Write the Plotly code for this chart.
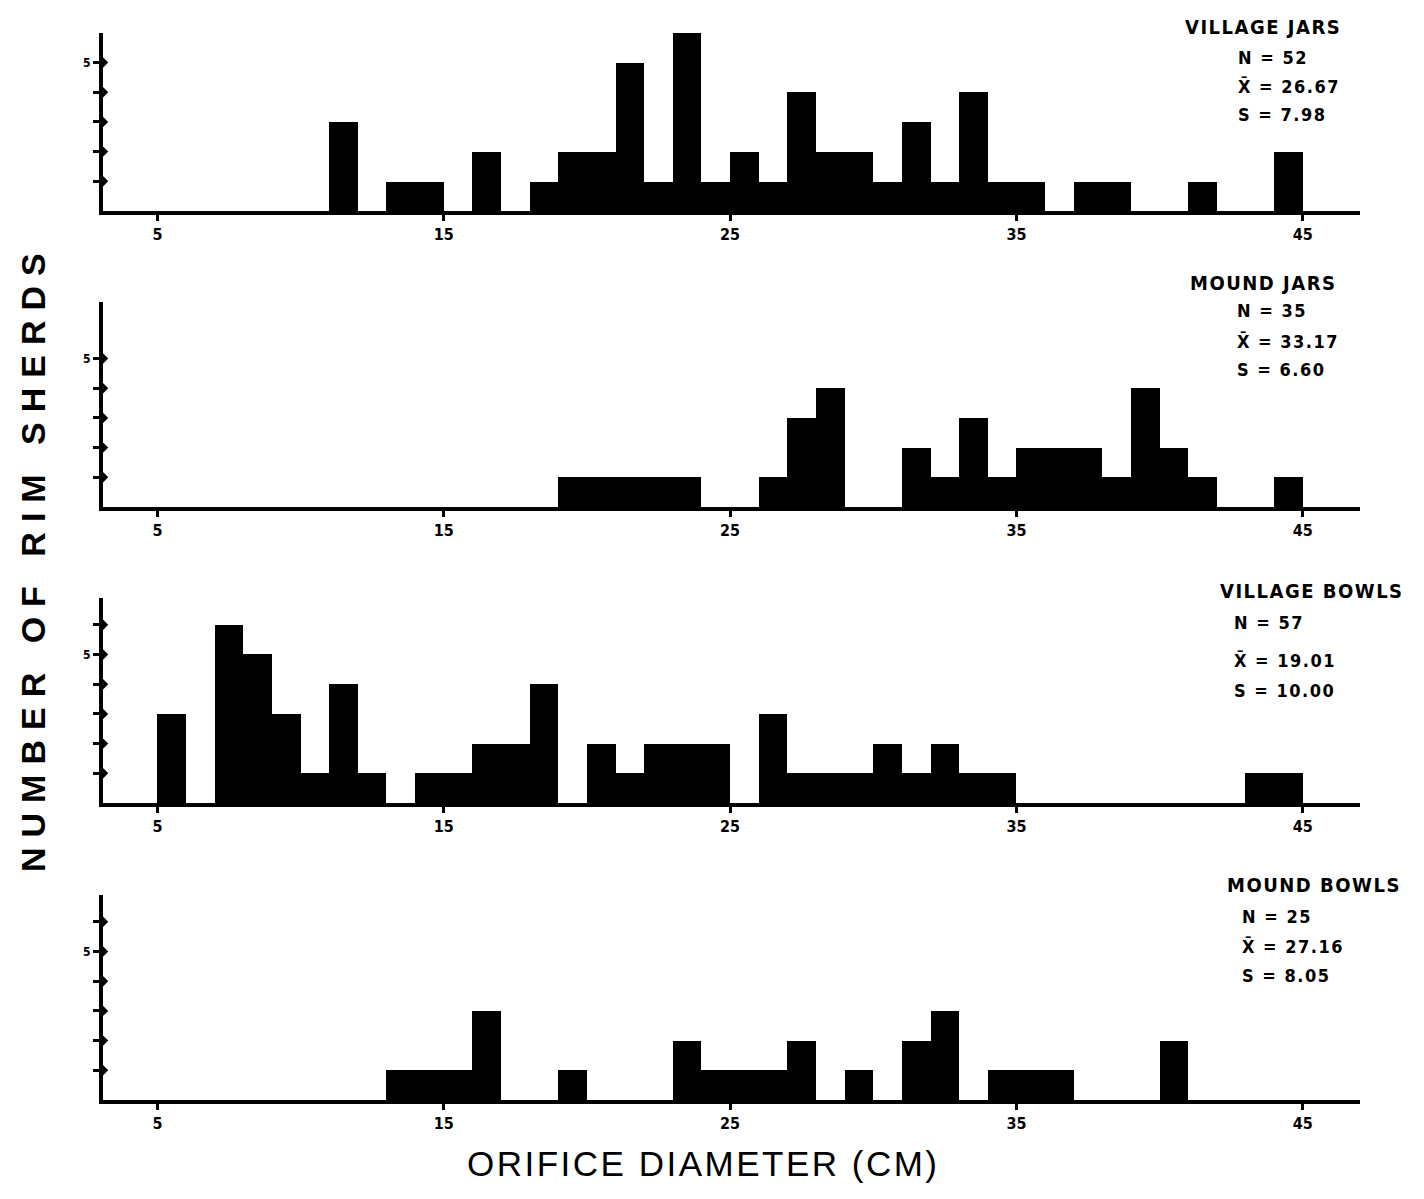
import plotly.graph_objects as go

# ---------------- data ----------------
# left edge of each 1-cm bin (as drawn) and number of rim sherds
vj_bin = [11, 13, 14, 16, 18, 19, 20, 21, 22, 23, 24, 25, 26, 27, 28, 29, 30, 31, 32, 33, 34, 35, 37, 38, 41, 44]
vj_n = [3, 1, 1, 2, 1, 2, 2, 5, 1, 6, 1, 2, 1, 4, 2, 2, 1, 3, 1, 4, 1, 1, 1, 1, 1, 2]

mj_bin = [19, 20, 21, 22, 23, 26, 27, 28, 31, 32, 33, 34, 35, 36, 37, 38, 39, 40, 41, 44]
mj_n = [1, 1, 1, 1, 1, 1, 3, 4, 2, 1, 3, 1, 2, 2, 2, 1, 4, 2, 1, 1]

vb_bin = [5, 7, 8, 9, 10, 11, 12, 14, 15, 16, 17, 18, 20, 21, 22, 23, 24, 26, 27, 28, 29, 30, 31, 32, 33, 34, 43, 44]
vb_n = [3, 6, 5, 3, 1, 4, 1, 1, 1, 2, 2, 4, 2, 1, 2, 2, 2, 3, 1, 1, 1, 2, 1, 2, 1, 1, 1, 1]

mb_bin = [13, 14, 15, 16, 19, 23, 24, 25, 26, 27, 29, 31, 32, 34, 35, 36, 40]
mb_n = [1, 1, 1, 3, 1, 2, 1, 1, 1, 2, 1, 2, 3, 1, 1, 1, 2]

panel_titles = ["VILLAGE JARS", "MOUND JARS", "VILLAGE BOWLS", "MOUND BOWLS"]
panel_n = ["N = 52", "N = 35", "N = 57", "N = 25"]
panel_mean = ["X\u0304 = 26.67", "X\u0304 = 33.17", "X\u0304 = 19.01", "X\u0304 = 27.16"]
panel_sd = ["S = 7.98", "S = 6.60", "S = 10.00", "S = 8.05"]

x_tickvals = [5, 15, 25, 35, 45]
x_ticktext = ["5", "15", "25", "35", "45"]
y_title = "NUMBER OF RIM SHERDS"
x_title = "ORIFICE DIAMETER (CM)"

# ---------------- layout constants ----------------
W, H = 1424, 1199
ML, MR = 103, 64
X_MIN, X_MAX = 3.1, 47.0
UNIT_PX = 29.7
baseline_px = [211, 507, 803, 1100]
y_top = [6.0, 6.9, 6.9, 6.9]
n_yticks = [5, 5, 6, 6]
title_pos = [(1183, 27), (1188, 283), (1218, 591), (1225, 885)]
stat_pos = [(1236, [57, 86, 114]), (1235, [311, 341, 369]),
            (1232, [622, 660, 690]), (1240, [916, 946, 975])]

PW = W - ML - MR


def px_x(px):
    return (px - ML) / PW


def px_y(py):
    return 1 - py / H


NARROW = "Liberation Sans Narrow, DejaVu Sans Condensed, Arial Narrow, sans-serif"
SANS = "Liberation Sans, Arial, Helvetica, sans-serif"


def spaced(text, px):
    return '<span style="letter-spacing:%spx">%s</span>' % (px, text)


bins = [vj_bin, mj_bin, vb_bin, mb_bin]
counts = [vj_n, mj_n, vb_n, mb_n]

fig = go.Figure()
layout = dict(
    width=W, height=H,
    margin=dict(l=ML, r=MR, t=0, b=0),
    paper_bgcolor="white", plot_bgcolor="white",
    showlegend=False, bargap=0,
)
annotations = []

for i in range(4):
    k = "" if i == 0 else str(i + 1)
    xa, ya = "x" + k, "y" + k
    fig.add_trace(go.Bar(
        x=bins[i], y=counts[i], width=1, offset=0,
        marker=dict(color="black", line=dict(width=0)),
        xaxis=xa, yaxis=ya, hoverinfo="x+y",
    ))
    yt = list(range(1, n_yticks[i] + 1))
    # knobs on the y axis at each count step
    fig.add_trace(go.Scatter(
        x=[X_MIN] * len(yt), y=yt, mode="markers",
        marker=dict(symbol="diamond", size=8, color="black"),
        xaxis=xa, yaxis=ya, cliponaxis=False, hoverinfo="skip",
    ))
    base = baseline_px[i]
    top = base - y_top[i] * UNIT_PX
    layout["xaxis" + k] = dict(
        domain=[0, 1], anchor=ya, range=[X_MIN, X_MAX],
        showgrid=False, zeroline=False, showline=True,
        linecolor="black", linewidth=4,
        ticks="outside", ticklen=6, tickwidth=2.5, tickcolor="black",
        tickvals=x_tickvals, ticktext=x_ticktext,
        tickfont=dict(family=NARROW, size=16, color="black", weight="bold"),
    )
    layout["yaxis" + k] = dict(
        domain=[px_y(base), px_y(top)], anchor=xa, range=[0, y_top[i]],
        showgrid=False, zeroline=False, showline=True,
        linecolor="black", linewidth=4,
        ticks="outside", ticklen=6, tickwidth=3, tickcolor="black",
        tickvals=yt, ticktext=["5" if v == 5 else "" for v in yt],
        tickfont=dict(family=NARROW, size=12, color="black", weight="bold"),
    )
    tx, ty = title_pos[i]
    annotations.append(dict(
        text=spaced(panel_titles[i], 1.5), xref="paper", yref="paper",
        x=px_x(tx), y=px_y(ty), xanchor="left", yanchor="middle",
        showarrow=False,
        font=dict(family=NARROW, size=20, color="black", weight="bold"),
    ))
    sx, sys_ = stat_pos[i]
    for txt, sy in zip([panel_n[i], panel_mean[i], panel_sd[i]], sys_):
        annotations.append(dict(
            text=spaced(txt, 1.5), xref="paper", yref="paper",
            x=px_x(sx), y=px_y(sy), xanchor="left", yanchor="middle",
            showarrow=False,
            font=dict(family=NARROW, size=18, color="black", weight="bold"),
        ))

annotations.append(dict(
    text=spaced(y_title, 10), xref="paper", yref="paper",
    x=px_x(33), y=px_y(558),
    xanchor="center", yanchor="middle", textangle=-90, showarrow=False,
    font=dict(family=SANS, size=34, color="black", weight="bold"),
))
annotations.append(dict(
    text=spaced(x_title, 2.5), xref="paper", yref="paper",
    x=px_x(703), y=px_y(1163),
    xanchor="center", yanchor="middle", showarrow=False,
    font=dict(family=SANS, size=35, color="black"),
))
layout["annotations"] = annotations
fig.update_layout(**layout)

fig.write_html("out.html", config={"displayModeBar": False},
               post_script="document.body.style.margin='0';")
